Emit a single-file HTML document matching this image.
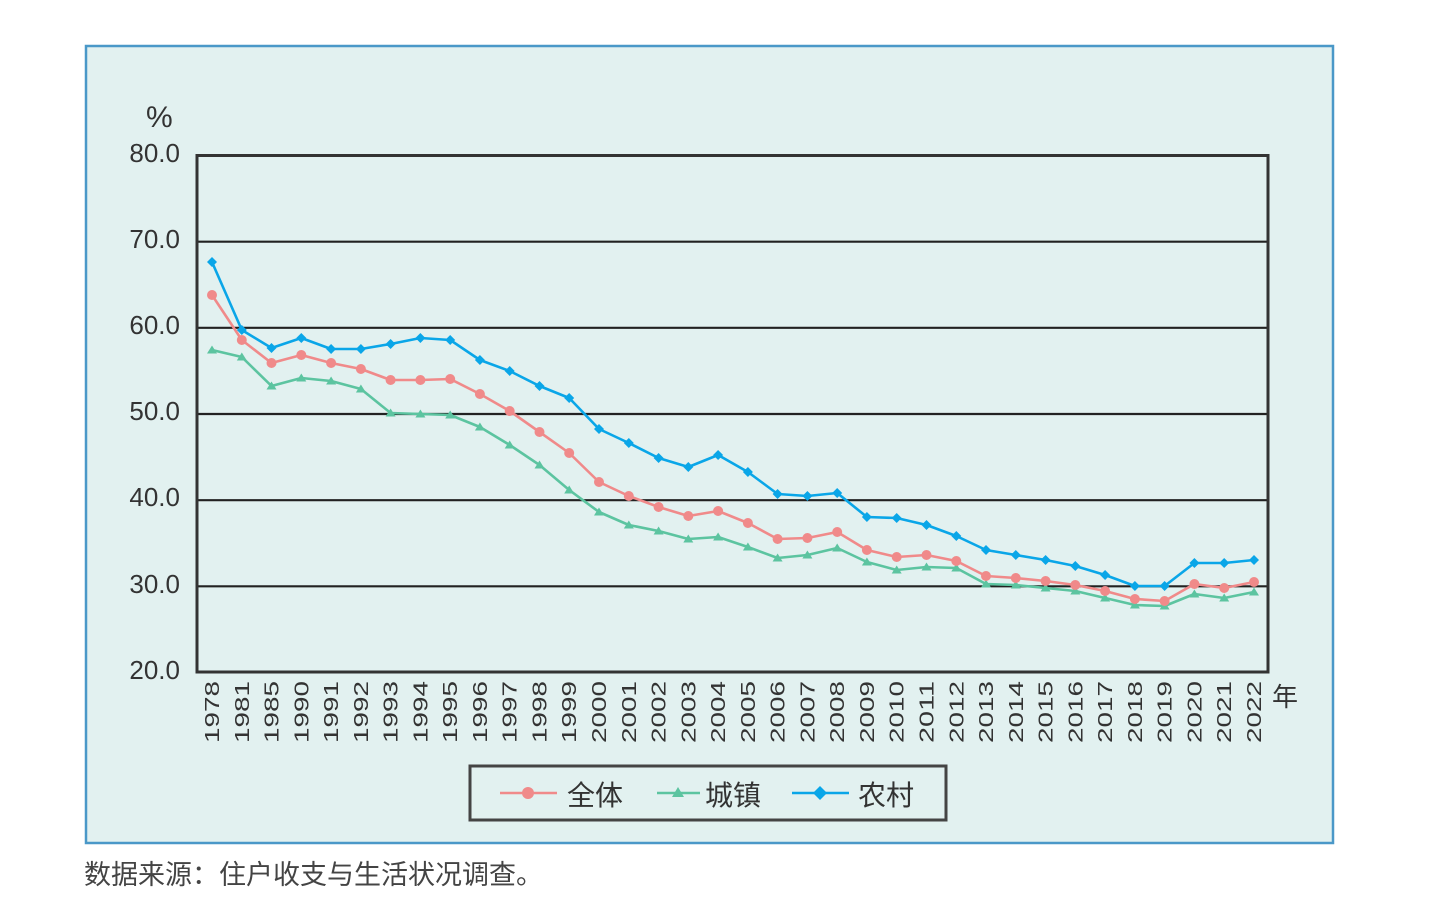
<!DOCTYPE html>
<html><head><meta charset="utf-8"><style>
html,body{margin:0;padding:0;background:#fff;}
svg{display:block;font-family:"Liberation Sans","Noto Sans CJK SC",sans-serif;}
</style></head><body>
<svg width="1431" height="903" viewBox="0 0 1431 903" xmlns="http://www.w3.org/2000/svg">
<defs>
<marker id="mc" markerUnits="userSpaceOnUse" markerWidth="14" markerHeight="14" refX="7" refY="7"><circle cx="7" cy="7" r="5" fill="#f08a8a"/></marker>
<marker id="mt" markerUnits="userSpaceOnUse" markerWidth="14" markerHeight="14" refX="7" refY="7"><polygon points="7,2.5 12,10.5 2,10.5" fill="#5cc4a0"/></marker>
<marker id="md" markerUnits="userSpaceOnUse" markerWidth="14" markerHeight="14" refX="7" refY="7"><polygon points="7,2 12,7 7,12 2,7" fill="#0aa6e8"/></marker>
</defs>
<rect x="0" y="0" width="1431" height="903" fill="#fff"/>
<rect x="86" y="46" width="1247" height="797" fill="#e2f1f0" stroke="#4a98c8" stroke-width="2.5"/>
<g stroke="#222" stroke-width="2.2">
<line x1="197" y1="155.5" x2="1268" y2="155.5"/>
<line x1="197" y1="241.7" x2="1268" y2="241.7"/>
<line x1="197" y1="327.8" x2="1268" y2="327.8"/>
<line x1="197" y1="414" x2="1268" y2="414"/>
<line x1="197" y1="500.2" x2="1268" y2="500.2"/>
<line x1="197" y1="586.3" x2="1268" y2="586.3"/>
</g>
<rect x="197" y="155.5" width="1071" height="516.5" fill="none" stroke="#333" stroke-width="3"/>
<g font-size="26" fill="#333" text-anchor="end">
<text x="180" y="162">80.0</text>
<text x="180" y="248">70.0</text>
<text x="180" y="334">60.0</text>
<text x="180" y="420">50.0</text>
<text x="180" y="506">40.0</text>
<text x="180" y="593">30.0</text>
<text x="180" y="679">20.0</text>
</g>
<text x="146" y="127" font-size="30" fill="#333">%</text>
<text x="1272" y="706" font-size="26" fill="#333">年</text>
<g fill="none" stroke-width="2.6" stroke-linejoin="round">
<polyline stroke="#5cc4a0" marker-start="url(#mt)" marker-mid="url(#mt)" marker-end="url(#mt)" points="212,350 241.8,357 271.5,386 301.3,378 331.1,381 360.9,389 390.6,413 420.4,414 450.2,415 479.9,427 509.7,445 539.5,465 569.2,490 599,512 628.8,525 658.6,531 688.3,539 718.1,537 747.9,547 777.6,558 807.4,555 837.2,548 866.9,562 896.7,570 926.5,567 956.3,568 986,584 1015.8,585 1045.6,588 1075.3,591 1105.1,598 1134.9,605 1164.6,606 1194.4,594 1224.2,598 1254,592"/>
<polyline stroke="#f08a8a" marker-start="url(#mc)" marker-mid="url(#mc)" marker-end="url(#mc)" points="212,295 241.8,340 271.5,363 301.3,355 331.1,363 360.9,369 390.6,380 420.4,380 450.2,379 479.9,394 509.7,411 539.5,432 569.2,453 599,482 628.8,496 658.6,507 688.3,516 718.1,511 747.9,523 777.6,539 807.4,538 837.2,532 866.9,550 896.7,557 926.5,555 956.3,561 986,576 1015.8,578 1045.6,581 1075.3,585 1105.1,591 1134.9,599 1164.6,601 1194.4,584 1224.2,588 1254,582"/>
<polyline stroke="#0aa6e8" marker-start="url(#md)" marker-mid="url(#md)" marker-end="url(#md)" points="212,262 241.8,330 271.5,348 301.3,338 331.1,349 360.9,349 390.6,344 420.4,338 450.2,340 479.9,360 509.7,371 539.5,386 569.2,398 599,429 628.8,443 658.6,458 688.3,467 718.1,455 747.9,472 777.6,494 807.4,496 837.2,493 866.9,517 896.7,518 926.5,525 956.3,536 986,550 1015.8,555 1045.6,560 1075.3,566 1105.1,575 1134.9,586 1164.6,586 1194.4,563 1224.2,563 1254,560"/>
</g>
<g font-size="20" fill="#333" text-anchor="end">
<text transform="translate(219,681) rotate(-90)" textLength="62" lengthAdjust="spacingAndGlyphs">1978</text>
<text transform="translate(248.8,681) rotate(-90)" textLength="62" lengthAdjust="spacingAndGlyphs">1981</text>
<text transform="translate(278.5,681) rotate(-90)" textLength="62" lengthAdjust="spacingAndGlyphs">1985</text>
<text transform="translate(308.3,681) rotate(-90)" textLength="62" lengthAdjust="spacingAndGlyphs">1990</text>
<text transform="translate(338.1,681) rotate(-90)" textLength="62" lengthAdjust="spacingAndGlyphs">1991</text>
<text transform="translate(367.9,681) rotate(-90)" textLength="62" lengthAdjust="spacingAndGlyphs">1992</text>
<text transform="translate(397.6,681) rotate(-90)" textLength="62" lengthAdjust="spacingAndGlyphs">1993</text>
<text transform="translate(427.4,681) rotate(-90)" textLength="62" lengthAdjust="spacingAndGlyphs">1994</text>
<text transform="translate(457.2,681) rotate(-90)" textLength="62" lengthAdjust="spacingAndGlyphs">1995</text>
<text transform="translate(486.9,681) rotate(-90)" textLength="62" lengthAdjust="spacingAndGlyphs">1996</text>
<text transform="translate(516.7,681) rotate(-90)" textLength="62" lengthAdjust="spacingAndGlyphs">1997</text>
<text transform="translate(546.5,681) rotate(-90)" textLength="62" lengthAdjust="spacingAndGlyphs">1998</text>
<text transform="translate(576.2,681) rotate(-90)" textLength="62" lengthAdjust="spacingAndGlyphs">1999</text>
<text transform="translate(606,681) rotate(-90)" textLength="62" lengthAdjust="spacingAndGlyphs">2000</text>
<text transform="translate(635.8,681) rotate(-90)" textLength="62" lengthAdjust="spacingAndGlyphs">2001</text>
<text transform="translate(665.6,681) rotate(-90)" textLength="62" lengthAdjust="spacingAndGlyphs">2002</text>
<text transform="translate(695.3,681) rotate(-90)" textLength="62" lengthAdjust="spacingAndGlyphs">2003</text>
<text transform="translate(725.1,681) rotate(-90)" textLength="62" lengthAdjust="spacingAndGlyphs">2004</text>
<text transform="translate(754.9,681) rotate(-90)" textLength="62" lengthAdjust="spacingAndGlyphs">2005</text>
<text transform="translate(784.6,681) rotate(-90)" textLength="62" lengthAdjust="spacingAndGlyphs">2006</text>
<text transform="translate(814.4,681) rotate(-90)" textLength="62" lengthAdjust="spacingAndGlyphs">2007</text>
<text transform="translate(844.2,681) rotate(-90)" textLength="62" lengthAdjust="spacingAndGlyphs">2008</text>
<text transform="translate(873.9,681) rotate(-90)" textLength="62" lengthAdjust="spacingAndGlyphs">2009</text>
<text transform="translate(903.7,681) rotate(-90)" textLength="62" lengthAdjust="spacingAndGlyphs">2010</text>
<text transform="translate(933.5,681) rotate(-90)" textLength="62" lengthAdjust="spacingAndGlyphs">2011</text>
<text transform="translate(963.3,681) rotate(-90)" textLength="62" lengthAdjust="spacingAndGlyphs">2012</text>
<text transform="translate(993,681) rotate(-90)" textLength="62" lengthAdjust="spacingAndGlyphs">2013</text>
<text transform="translate(1022.8,681) rotate(-90)" textLength="62" lengthAdjust="spacingAndGlyphs">2014</text>
<text transform="translate(1052.6,681) rotate(-90)" textLength="62" lengthAdjust="spacingAndGlyphs">2015</text>
<text transform="translate(1082.3,681) rotate(-90)" textLength="62" lengthAdjust="spacingAndGlyphs">2016</text>
<text transform="translate(1112.1,681) rotate(-90)" textLength="62" lengthAdjust="spacingAndGlyphs">2017</text>
<text transform="translate(1141.9,681) rotate(-90)" textLength="62" lengthAdjust="spacingAndGlyphs">2018</text>
<text transform="translate(1171.6,681) rotate(-90)" textLength="62" lengthAdjust="spacingAndGlyphs">2019</text>
<text transform="translate(1201.4,681) rotate(-90)" textLength="62" lengthAdjust="spacingAndGlyphs">2020</text>
<text transform="translate(1231.2,681) rotate(-90)" textLength="62" lengthAdjust="spacingAndGlyphs">2021</text>
<text transform="translate(1261,681) rotate(-90)" textLength="62" lengthAdjust="spacingAndGlyphs">2022</text>
</g>
<rect x="470" y="766" width="476" height="54" fill="none" stroke="#444" stroke-width="3"/>
<g stroke-width="2.6">
<line x1="500" y1="793" x2="557" y2="793" stroke="#f08a8a"/>
<line x1="657" y1="793" x2="700" y2="793" stroke="#5cc4a0"/>
<line x1="792" y1="793" x2="849" y2="793" stroke="#0aa6e8"/>
</g>
<circle cx="528" cy="793" r="6" fill="#f08a8a"/>
<polygon points="678,787 684,797 672,797" fill="#5cc4a0"/>
<polygon points="820,786 827,793 820,800 813,793" fill="#0aa6e8"/>
<g font-size="28" fill="#333">
<text x="567" y="805">全体</text>
<text x="705" y="805">城镇</text>
<text x="858" y="805">农村</text>
</g>
<text x="84" y="884" font-size="27" fill="#444">数据来源：住户收支与生活状况调查。</text>
</svg>
</body></html>
